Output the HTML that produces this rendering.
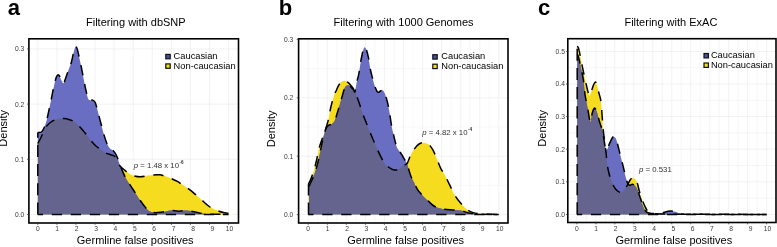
<!DOCTYPE html>
<html><head><meta charset="utf-8"><style>
html,body{margin:0;padding:0;background:#fff;}
svg{display:block;will-change:transform;}
text{font-family:"Liberation Sans",sans-serif;}
</style></head><body>
<svg width="777" height="247" viewBox="0 0 777 247">
<rect width="777" height="247" fill="#fff"/>

<defs><clipPath id="clipa"><rect x="28.9" y="38.8" width="209.6" height="184.2"/></clipPath>
<clipPath id="cca"><path d="M37.8 214.5 L37.8 132.6 C38.4 132.5 40.5 132.8 41.5 132.0 C42.5 131.2 43.2 129.8 44.0 128.0 C44.8 126.2 45.7 124.0 46.5 121.0 C47.3 118.0 48.2 113.8 49.0 110.0 C49.8 106.2 50.7 102.0 51.5 98.0 C52.3 94.0 53.2 89.3 54.0 86.0 C54.8 82.7 55.4 79.9 56.0 78.0 C56.6 76.1 57.2 75.1 57.8 74.8 C58.4 74.5 58.9 75.0 59.5 76.0 C60.1 77.0 60.8 79.3 61.5 80.5 C62.2 81.7 62.8 83.7 63.5 83.3 C64.2 82.9 64.9 80.2 65.7 78.0 C66.5 75.8 67.6 72.6 68.5 70.0 C69.4 67.4 70.5 65.3 71.3 62.5 C72.1 59.7 72.8 55.7 73.5 53.0 C74.2 50.3 74.9 47.0 75.6 46.5 C76.3 46.0 76.8 47.8 77.5 50.0 C78.2 52.2 78.9 56.0 79.8 60.0 C80.7 64.0 81.8 69.5 82.7 74.2 C83.7 78.9 84.6 84.2 85.5 88.3 C86.4 92.3 87.2 96.5 88.0 98.5 C88.8 100.5 89.7 100.0 90.5 100.3 C91.3 100.6 91.8 99.8 92.6 100.2 C93.4 100.6 94.3 100.5 95.2 102.5 C96.1 104.5 97.1 108.6 98.0 112.0 C98.9 115.4 99.8 119.4 100.8 123.0 C101.8 126.6 102.7 130.4 103.7 133.8 C104.7 137.2 105.9 141.1 106.9 143.5 C108.0 145.9 109.0 147.3 110.0 148.5 C111.0 149.7 112.0 149.5 113.0 150.5 C114.0 151.5 115.2 153.0 116.0 154.5 C116.8 156.0 117.4 157.7 118.1 159.4 C118.8 161.2 118.8 162.1 120.0 165.0 C121.2 167.9 123.5 173.7 125.2 177.1 C126.9 180.5 128.3 182.3 130.2 185.2 C132.0 188.1 134.3 191.3 136.3 194.4 C138.3 197.5 140.4 200.8 142.4 203.5 C144.4 206.2 146.5 209.0 148.5 210.5 C150.5 212.0 152.2 212.3 154.5 212.6 C156.8 212.8 159.9 212.3 162.6 212.0 C165.3 211.7 168.0 210.6 170.7 210.5 C173.4 210.4 176.1 211.2 178.8 211.2 C181.5 211.2 184.2 210.4 186.9 210.5 C189.6 210.6 192.3 211.5 195.0 212.0 C197.7 212.5 200.6 213.2 203.1 213.6 C205.6 214.0 205.7 214.1 210.0 214.2 C214.3 214.3 225.7 214.4 228.8 214.4 L228.8 214.5 Z"/></clipPath></defs>
<g stroke="#ececec" stroke-width="0.7"><line x1="37.8" y1="38.8" x2="37.8" y2="223.0"/><line x1="56.9" y1="38.8" x2="56.9" y2="223.0"/><line x1="76.0" y1="38.8" x2="76.0" y2="223.0"/><line x1="95.0" y1="38.8" x2="95.0" y2="223.0"/><line x1="114.1" y1="38.8" x2="114.1" y2="223.0"/><line x1="133.2" y1="38.8" x2="133.2" y2="223.0"/><line x1="152.3" y1="38.8" x2="152.3" y2="223.0"/><line x1="171.4" y1="38.8" x2="171.4" y2="223.0"/><line x1="190.4" y1="38.8" x2="190.4" y2="223.0"/><line x1="209.5" y1="38.8" x2="209.5" y2="223.0"/><line x1="228.6" y1="38.8" x2="228.6" y2="223.0"/><line x1="28.9" y1="214.5" x2="238.5" y2="214.5"/><line x1="28.9" y1="159.3" x2="238.5" y2="159.3"/><line x1="28.9" y1="104.1" x2="238.5" y2="104.1"/><line x1="28.9" y1="48.9" x2="238.5" y2="48.9"/></g>
<g clip-path="url(#clipa)">
<path d="M37.8 214.5 L37.8 143.5 C38.2 142.8 39.2 141.1 40.0 139.5 C40.8 137.9 41.8 135.6 42.6 133.8 C43.4 132.0 44.2 129.9 45.0 128.5 C45.8 127.1 46.2 126.5 47.4 125.3 C48.6 124.1 50.5 122.3 52.3 121.2 C54.1 120.1 56.0 119.2 58.0 118.8 C60.0 118.3 62.6 118.4 64.4 118.5 C66.2 118.6 67.4 119.0 69.0 119.5 C70.6 120.0 72.4 120.6 74.1 121.7 C75.8 122.8 77.4 124.4 79.0 126.0 C80.6 127.6 82.3 129.7 83.8 131.4 C85.3 133.2 86.6 134.7 88.0 136.5 C89.4 138.3 90.9 140.6 92.3 142.3 C93.7 144.0 95.1 145.3 96.5 146.5 C97.9 147.7 99.3 148.5 100.8 149.6 C102.3 150.7 104.2 152.2 105.7 153.0 C107.2 153.8 108.6 154.0 110.0 154.5 C111.4 155.0 113.1 155.2 114.2 156.0 C115.3 156.8 115.8 158.2 116.5 159.5 C117.2 160.8 117.7 162.4 118.3 163.5 C118.9 164.6 119.3 165.1 120.1 166.0 C120.9 166.9 122.0 167.9 123.0 168.8 C124.0 169.7 124.7 170.2 126.2 171.3 C127.8 172.4 129.9 174.4 132.3 175.3 C134.7 176.2 137.4 176.8 140.4 176.8 C143.4 176.8 147.3 175.6 150.5 175.3 C153.7 175.0 156.6 174.4 159.6 174.8 C162.6 175.2 165.8 176.4 168.7 177.5 C171.6 178.6 174.1 179.7 176.8 181.2 C179.5 182.7 182.2 184.5 184.9 186.3 C187.6 188.2 190.3 190.1 193.0 192.3 C195.7 194.5 198.4 197.0 201.1 199.4 C203.8 201.8 206.5 204.7 209.2 206.5 C211.9 208.3 214.8 209.4 217.3 210.5 C219.8 211.6 222.5 212.3 224.4 212.8 C226.3 213.3 228.1 213.2 228.8 213.3 L228.8 214.5 Z" fill="#f5dc1e"/>
<path d="M37.8 214.5 L37.8 132.6 C38.4 132.5 40.5 132.8 41.5 132.0 C42.5 131.2 43.2 129.8 44.0 128.0 C44.8 126.2 45.7 124.0 46.5 121.0 C47.3 118.0 48.2 113.8 49.0 110.0 C49.8 106.2 50.7 102.0 51.5 98.0 C52.3 94.0 53.2 89.3 54.0 86.0 C54.8 82.7 55.4 79.9 56.0 78.0 C56.6 76.1 57.2 75.1 57.8 74.8 C58.4 74.5 58.9 75.0 59.5 76.0 C60.1 77.0 60.8 79.3 61.5 80.5 C62.2 81.7 62.8 83.7 63.5 83.3 C64.2 82.9 64.9 80.2 65.7 78.0 C66.5 75.8 67.6 72.6 68.5 70.0 C69.4 67.4 70.5 65.3 71.3 62.5 C72.1 59.7 72.8 55.7 73.5 53.0 C74.2 50.3 74.9 47.0 75.6 46.5 C76.3 46.0 76.8 47.8 77.5 50.0 C78.2 52.2 78.9 56.0 79.8 60.0 C80.7 64.0 81.8 69.5 82.7 74.2 C83.7 78.9 84.6 84.2 85.5 88.3 C86.4 92.3 87.2 96.5 88.0 98.5 C88.8 100.5 89.7 100.0 90.5 100.3 C91.3 100.6 91.8 99.8 92.6 100.2 C93.4 100.6 94.3 100.5 95.2 102.5 C96.1 104.5 97.1 108.6 98.0 112.0 C98.9 115.4 99.8 119.4 100.8 123.0 C101.8 126.6 102.7 130.4 103.7 133.8 C104.7 137.2 105.9 141.1 106.9 143.5 C108.0 145.9 109.0 147.3 110.0 148.5 C111.0 149.7 112.0 149.5 113.0 150.5 C114.0 151.5 115.2 153.0 116.0 154.5 C116.8 156.0 117.4 157.7 118.1 159.4 C118.8 161.2 118.8 162.1 120.0 165.0 C121.2 167.9 123.5 173.7 125.2 177.1 C126.9 180.5 128.3 182.3 130.2 185.2 C132.0 188.1 134.3 191.3 136.3 194.4 C138.3 197.5 140.4 200.8 142.4 203.5 C144.4 206.2 146.5 209.0 148.5 210.5 C150.5 212.0 152.2 212.3 154.5 212.6 C156.8 212.8 159.9 212.3 162.6 212.0 C165.3 211.7 168.0 210.6 170.7 210.5 C173.4 210.4 176.1 211.2 178.8 211.2 C181.5 211.2 184.2 210.4 186.9 210.5 C189.6 210.6 192.3 211.5 195.0 212.0 C197.7 212.5 200.6 213.2 203.1 213.6 C205.6 214.0 205.7 214.1 210.0 214.2 C214.3 214.3 225.7 214.4 228.8 214.4 L228.8 214.5 Z" fill="#6a6ec3"/>
<path d="M37.8 214.5 L37.8 143.5 C38.2 142.8 39.2 141.1 40.0 139.5 C40.8 137.9 41.8 135.6 42.6 133.8 C43.4 132.0 44.2 129.9 45.0 128.5 C45.8 127.1 46.2 126.5 47.4 125.3 C48.6 124.1 50.5 122.3 52.3 121.2 C54.1 120.1 56.0 119.2 58.0 118.8 C60.0 118.3 62.6 118.4 64.4 118.5 C66.2 118.6 67.4 119.0 69.0 119.5 C70.6 120.0 72.4 120.6 74.1 121.7 C75.8 122.8 77.4 124.4 79.0 126.0 C80.6 127.6 82.3 129.7 83.8 131.4 C85.3 133.2 86.6 134.7 88.0 136.5 C89.4 138.3 90.9 140.6 92.3 142.3 C93.7 144.0 95.1 145.3 96.5 146.5 C97.9 147.7 99.3 148.5 100.8 149.6 C102.3 150.7 104.2 152.2 105.7 153.0 C107.2 153.8 108.6 154.0 110.0 154.5 C111.4 155.0 113.1 155.2 114.2 156.0 C115.3 156.8 115.8 158.2 116.5 159.5 C117.2 160.8 117.7 162.4 118.3 163.5 C118.9 164.6 119.3 165.1 120.1 166.0 C120.9 166.9 122.0 167.9 123.0 168.8 C124.0 169.7 124.7 170.2 126.2 171.3 C127.8 172.4 129.9 174.4 132.3 175.3 C134.7 176.2 137.4 176.8 140.4 176.8 C143.4 176.8 147.3 175.6 150.5 175.3 C153.7 175.0 156.6 174.4 159.6 174.8 C162.6 175.2 165.8 176.4 168.7 177.5 C171.6 178.6 174.1 179.7 176.8 181.2 C179.5 182.7 182.2 184.5 184.9 186.3 C187.6 188.2 190.3 190.1 193.0 192.3 C195.7 194.5 198.4 197.0 201.1 199.4 C203.8 201.8 206.5 204.7 209.2 206.5 C211.9 208.3 214.8 209.4 217.3 210.5 C219.8 211.6 222.5 212.3 224.4 212.8 C226.3 213.3 228.1 213.2 228.8 213.3 L228.8 214.5 Z" fill="#64648f" clip-path="url(#cca)"/>
<path d="M37.8 132.6 C38.4 132.5 40.5 132.8 41.5 132.0 C42.5 131.2 43.2 129.8 44.0 128.0 C44.8 126.2 45.7 124.0 46.5 121.0 C47.3 118.0 48.2 113.8 49.0 110.0 C49.8 106.2 50.7 102.0 51.5 98.0 C52.3 94.0 53.2 89.3 54.0 86.0 C54.8 82.7 55.4 79.9 56.0 78.0 C56.6 76.1 57.2 75.1 57.8 74.8 C58.4 74.5 58.9 75.0 59.5 76.0 C60.1 77.0 60.8 79.3 61.5 80.5 C62.2 81.7 62.8 83.7 63.5 83.3 C64.2 82.9 64.9 80.2 65.7 78.0 C66.5 75.8 67.6 72.6 68.5 70.0 C69.4 67.4 70.5 65.3 71.3 62.5 C72.1 59.7 72.8 55.7 73.5 53.0 C74.2 50.3 74.9 47.0 75.6 46.5 C76.3 46.0 76.8 47.8 77.5 50.0 C78.2 52.2 78.9 56.0 79.8 60.0 C80.7 64.0 81.8 69.5 82.7 74.2 C83.7 78.9 84.6 84.2 85.5 88.3 C86.4 92.3 87.2 96.5 88.0 98.5 C88.8 100.5 89.7 100.0 90.5 100.3 C91.3 100.6 91.8 99.8 92.6 100.2 C93.4 100.6 94.3 100.5 95.2 102.5 C96.1 104.5 97.1 108.6 98.0 112.0 C98.9 115.4 99.8 119.4 100.8 123.0 C101.8 126.6 102.7 130.4 103.7 133.8 C104.7 137.2 105.9 141.1 106.9 143.5 C108.0 145.9 109.0 147.3 110.0 148.5 C111.0 149.7 112.0 149.5 113.0 150.5 C114.0 151.5 115.2 153.0 116.0 154.5 C116.8 156.0 117.4 157.7 118.1 159.4 C118.8 161.2 118.8 162.1 120.0 165.0 C121.2 167.9 123.5 173.7 125.2 177.1 C126.9 180.5 128.3 182.3 130.2 185.2 C132.0 188.1 134.3 191.3 136.3 194.4 C138.3 197.5 140.4 200.8 142.4 203.5 C144.4 206.2 146.5 209.0 148.5 210.5 C150.5 212.0 152.2 212.3 154.5 212.6 C156.8 212.8 159.9 212.3 162.6 212.0 C165.3 211.7 168.0 210.6 170.7 210.5 C173.4 210.4 176.1 211.2 178.8 211.2 C181.5 211.2 184.2 210.4 186.9 210.5 C189.6 210.6 192.3 211.5 195.0 212.0 C197.7 212.5 200.6 213.2 203.1 213.6 C205.6 214.0 205.7 214.1 210.0 214.2 C214.3 214.3 225.7 214.4 228.8 214.4" fill="none" stroke="#000" stroke-width="1.50" stroke-dasharray="10.3 8.7"/>
<path d="M37.8 143.5 C38.2 142.8 39.2 141.1 40.0 139.5 C40.8 137.9 41.8 135.6 42.6 133.8 C43.4 132.0 44.2 129.9 45.0 128.5 C45.8 127.1 46.2 126.5 47.4 125.3 C48.6 124.1 50.5 122.3 52.3 121.2 C54.1 120.1 56.0 119.2 58.0 118.8 C60.0 118.3 62.6 118.4 64.4 118.5 C66.2 118.6 67.4 119.0 69.0 119.5 C70.6 120.0 72.4 120.6 74.1 121.7 C75.8 122.8 77.4 124.4 79.0 126.0 C80.6 127.6 82.3 129.7 83.8 131.4 C85.3 133.2 86.6 134.7 88.0 136.5 C89.4 138.3 90.9 140.6 92.3 142.3 C93.7 144.0 95.1 145.3 96.5 146.5 C97.9 147.7 99.3 148.5 100.8 149.6 C102.3 150.7 104.2 152.2 105.7 153.0 C107.2 153.8 108.6 154.0 110.0 154.5 C111.4 155.0 113.1 155.2 114.2 156.0 C115.3 156.8 115.8 158.2 116.5 159.5 C117.2 160.8 117.7 162.4 118.3 163.5 C118.9 164.6 119.3 165.1 120.1 166.0 C120.9 166.9 122.0 167.9 123.0 168.8 C124.0 169.7 124.7 170.2 126.2 171.3 C127.8 172.4 129.9 174.4 132.3 175.3 C134.7 176.2 137.4 176.8 140.4 176.8 C143.4 176.8 147.3 175.6 150.5 175.3 C153.7 175.0 156.6 174.4 159.6 174.8 C162.6 175.2 165.8 176.4 168.7 177.5 C171.6 178.6 174.1 179.7 176.8 181.2 C179.5 182.7 182.2 184.5 184.9 186.3 C187.6 188.2 190.3 190.1 193.0 192.3 C195.7 194.5 198.4 197.0 201.1 199.4 C203.8 201.8 206.5 204.7 209.2 206.5 C211.9 208.3 214.8 209.4 217.3 210.5 C219.8 211.6 222.5 212.3 224.4 212.8 C226.3 213.3 228.1 213.2 228.8 213.3" fill="none" stroke="#000" stroke-width="1.50" stroke-dasharray="10.3 8.7"/>
<line x1="37.8" y1="214.5" x2="228.6" y2="214.5" stroke="#000" stroke-width="1.50" stroke-dasharray="10.3 8.7" stroke-dashoffset="5.0"/>
<line x1="37.8" y1="214.5" x2="37.8" y2="132.6" stroke="#000" stroke-width="1.50" stroke-dasharray="12.1 7.1"/>
</g>
<rect x="28.9" y="38.8" width="209.6" height="184.2" fill="none" stroke="#000" stroke-width="1.6"/>
<g stroke="#333" stroke-width="0.8"><line x1="37.8" y1="223.0" x2="37.8" y2="224.8"/><line x1="56.9" y1="223.0" x2="56.9" y2="224.8"/><line x1="76.0" y1="223.0" x2="76.0" y2="224.8"/><line x1="95.0" y1="223.0" x2="95.0" y2="224.8"/><line x1="114.1" y1="223.0" x2="114.1" y2="224.8"/><line x1="133.2" y1="223.0" x2="133.2" y2="224.8"/><line x1="152.3" y1="223.0" x2="152.3" y2="224.8"/><line x1="171.4" y1="223.0" x2="171.4" y2="224.8"/><line x1="190.4" y1="223.0" x2="190.4" y2="224.8"/><line x1="209.5" y1="223.0" x2="209.5" y2="224.8"/><line x1="228.6" y1="223.0" x2="228.6" y2="224.8"/><line x1="27.1" y1="214.5" x2="28.9" y2="214.5"/><line x1="27.1" y1="159.3" x2="28.9" y2="159.3"/><line x1="27.1" y1="104.1" x2="28.9" y2="104.1"/><line x1="27.1" y1="48.9" x2="28.9" y2="48.9"/></g>
<g fill="#3a3a3a" font-size="6.7"><text x="37.8" y="230.6" text-anchor="middle">0</text><text x="57.2" y="230.6" text-anchor="middle">1</text><text x="76.6" y="230.6" text-anchor="middle">2</text><text x="96.0" y="230.6" text-anchor="middle">3</text><text x="115.4" y="230.6" text-anchor="middle">4</text><text x="134.8" y="230.6" text-anchor="middle">5</text><text x="154.2" y="230.6" text-anchor="middle">6</text><text x="173.6" y="230.6" text-anchor="middle">7</text><text x="193.0" y="230.6" text-anchor="middle">8</text><text x="212.4" y="230.6" text-anchor="middle">9</text><text x="229.6" y="230.6" text-anchor="middle">10</text><text x="24.3" y="216.9" text-anchor="end">0.0</text><text x="24.3" y="161.7" text-anchor="end">0.1</text><text x="24.3" y="106.5" text-anchor="end">0.2</text><text x="24.3" y="51.3" text-anchor="end">0.3</text></g>
<text x="7.8" y="14.8" font-size="22" font-weight="bold" fill="#000">a</text>
<text x="135.8" y="25.5" font-size="11" text-anchor="middle" fill="#000">Filtering with dbSNP</text>
<text x="135.2" y="244.2" font-size="11" text-anchor="middle" fill="#000">Germline false positives</text>
<text transform="translate(7.3 128.3) rotate(-90)" font-size="11" text-anchor="middle" fill="#000">Density</text>
<rect x="165.8" y="54.4" width="4.4" height="4.4" fill="#4a50a0" stroke="#111" stroke-width="1.2"/>
<rect x="165.8" y="63.9" width="4.4" height="4.4" fill="#f0e010" stroke="#111" stroke-width="1.2"/>
<text x="173.6" y="59.0" font-size="9.3" fill="#000">Caucasian</text>
<text x="173.6" y="68.8" font-size="9.3" fill="#000">Non-caucasian</text>
<text x="133.7" y="167.6" font-size="7.8" fill="#333"><tspan font-style="italic">p</tspan> = 1.48 x 10<tspan font-size="4.6" font-weight="bold" dx="0.4" dy="-3.2">-6</tspan></text>
<defs><clipPath id="clipb"><rect x="298.6" y="38.8" width="209.4" height="184.2"/></clipPath>
<clipPath id="ccb"><path d="M309.0 214.6 L309.0 186.5 C309.4 185.6 310.5 183.3 311.5 181.0 C312.5 178.7 313.9 175.7 315.0 172.5 C316.1 169.3 317.1 165.7 318.0 162.0 C318.9 158.3 319.8 154.0 320.5 150.5 C321.2 147.0 321.8 143.9 322.5 141.0 C323.2 138.1 323.9 135.1 324.5 133.0 C325.1 130.9 325.4 129.5 326.1 128.2 C326.8 126.9 327.6 126.1 328.5 125.4 C329.4 124.7 330.4 125.0 331.5 124.2 C332.6 123.4 333.9 122.2 334.8 120.4 C335.8 118.6 336.4 115.8 337.2 113.3 C338.0 110.8 338.8 108.0 339.6 105.2 C340.4 102.4 341.4 99.0 342.1 96.5 C342.8 94.0 343.3 92.1 343.8 90.5 C344.3 88.9 344.7 87.7 345.3 86.8 C345.9 85.9 346.9 85.5 347.6 85.3 C348.3 85.1 348.8 85.2 349.4 85.6 C350.0 85.9 350.6 86.7 351.3 87.4 C352.0 88.1 353.1 89.3 353.7 90.0 C354.3 90.7 354.5 93.1 355.0 91.8 C355.5 90.5 356.1 85.0 356.7 82.2 C357.3 79.4 358.0 77.8 358.6 74.9 C359.2 72.0 359.7 68.2 360.2 65.0 C360.7 61.9 361.3 58.5 361.8 56.0 C362.3 53.5 362.7 51.5 363.2 50.0 C363.7 48.5 364.1 47.2 364.7 47.2 C365.2 47.2 365.9 48.3 366.5 50.0 C367.1 51.7 367.7 54.1 368.4 57.4 C369.1 60.7 369.9 66.8 370.5 70.0 C371.1 73.2 371.6 74.3 372.1 76.5 C372.7 78.7 373.2 81.1 373.8 83.0 C374.4 84.9 374.8 86.3 375.4 87.8 C376.0 89.3 376.7 91.1 377.3 91.8 C377.9 92.5 378.3 92.3 378.8 92.2 C379.3 92.1 379.8 91.3 380.4 91.0 C381.0 90.7 381.8 90.0 382.5 90.2 C383.2 90.5 383.8 91.4 384.4 92.5 C385.0 93.6 385.4 95.0 385.9 96.7 C386.4 98.4 387.0 100.2 387.5 102.4 C388.0 104.6 388.6 107.5 389.1 110.0 C389.6 112.5 389.9 114.8 390.3 117.5 C390.7 120.2 391.1 123.2 391.6 126.0 C392.1 128.8 392.9 131.7 393.4 134.0 C393.9 136.3 394.2 137.7 394.8 140.0 C395.4 142.3 396.1 145.8 397.2 148.1 C398.3 150.4 400.1 151.9 401.3 153.8 C402.5 155.7 403.6 157.8 404.5 159.4 C405.4 161.0 406.3 161.9 407.0 163.5 C407.7 165.1 407.9 166.9 408.6 169.1 C409.3 171.3 410.2 174.5 411.0 176.5 C411.8 178.5 412.3 179.1 413.4 181.2 C414.5 183.3 415.9 186.9 417.4 189.3 C418.9 191.7 420.6 193.4 422.5 195.4 C424.4 197.4 426.6 199.6 428.6 201.4 C430.6 203.2 432.3 205.2 434.7 206.5 C437.1 207.8 439.8 208.5 442.8 209.1 C445.8 209.7 449.9 209.7 452.9 209.9 C455.9 210.1 458.6 210.1 461.0 210.5 C463.4 210.9 465.0 212.1 467.0 212.6 C469.0 213.1 470.9 213.3 473.1 213.6 C475.3 213.9 475.7 214.2 480.0 214.3 C484.3 214.5 495.7 214.5 498.8 214.5 L498.8 214.6 Z"/></clipPath></defs>
<g stroke="#ececec" stroke-width="0.7"><line x1="308.2" y1="38.8" x2="308.2" y2="223.0"/><line x1="317.7" y1="38.8" x2="317.7" y2="223.0" stroke="#f6f6f6"/><line x1="327.3" y1="38.8" x2="327.3" y2="223.0"/><line x1="336.8" y1="38.8" x2="336.8" y2="223.0" stroke="#f6f6f6"/><line x1="346.3" y1="38.8" x2="346.3" y2="223.0"/><line x1="355.8" y1="38.8" x2="355.8" y2="223.0" stroke="#f6f6f6"/><line x1="365.4" y1="38.8" x2="365.4" y2="223.0"/><line x1="374.9" y1="38.8" x2="374.9" y2="223.0" stroke="#f6f6f6"/><line x1="384.4" y1="38.8" x2="384.4" y2="223.0"/><line x1="394.0" y1="38.8" x2="394.0" y2="223.0" stroke="#f6f6f6"/><line x1="403.5" y1="38.8" x2="403.5" y2="223.0"/><line x1="413.0" y1="38.8" x2="413.0" y2="223.0" stroke="#f6f6f6"/><line x1="422.6" y1="38.8" x2="422.6" y2="223.0"/><line x1="432.1" y1="38.8" x2="432.1" y2="223.0" stroke="#f6f6f6"/><line x1="441.6" y1="38.8" x2="441.6" y2="223.0"/><line x1="451.1" y1="38.8" x2="451.1" y2="223.0" stroke="#f6f6f6"/><line x1="460.7" y1="38.8" x2="460.7" y2="223.0"/><line x1="470.2" y1="38.8" x2="470.2" y2="223.0" stroke="#f6f6f6"/><line x1="479.7" y1="38.8" x2="479.7" y2="223.0"/><line x1="489.3" y1="38.8" x2="489.3" y2="223.0" stroke="#f6f6f6"/><line x1="498.8" y1="38.8" x2="498.8" y2="223.0"/><line x1="298.6" y1="214.6" x2="508.0" y2="214.6"/><line x1="298.6" y1="185.4" x2="508.0" y2="185.4" stroke="#f6f6f6"/><line x1="298.6" y1="156.2" x2="508.0" y2="156.2"/><line x1="298.6" y1="127.0" x2="508.0" y2="127.0" stroke="#f6f6f6"/><line x1="298.6" y1="97.8" x2="508.0" y2="97.8"/><line x1="298.6" y1="68.6" x2="508.0" y2="68.6" stroke="#f6f6f6"/><line x1="298.6" y1="39.4" x2="508.0" y2="39.4"/></g>
<g clip-path="url(#clipb)">
<path d="M308.5 214.6 L308.5 184.0 C308.9 183.2 309.8 181.6 310.6 179.5 C311.5 177.4 312.6 174.7 313.6 171.5 C314.6 168.3 315.6 164.2 316.5 160.5 C317.4 156.8 318.1 152.2 318.9 149.0 C319.7 145.8 320.5 143.5 321.4 141.0 C322.3 138.5 323.3 136.2 324.1 134.0 C324.9 131.8 325.4 129.8 326.1 127.5 C326.8 125.2 327.6 123.1 328.2 120.4 C328.8 117.7 329.3 114.2 329.9 111.3 C330.5 108.4 331.2 105.4 331.8 103.2 C332.4 101.0 332.8 99.6 333.3 97.9 C333.8 96.2 334.5 94.4 335.0 93.1 C335.5 91.8 335.8 91.5 336.4 90.3 C337.0 89.0 337.6 87.0 338.5 85.6 C339.4 84.2 340.5 82.6 341.5 81.8 C342.5 81.0 343.6 80.6 344.6 80.7 C345.6 80.8 346.6 81.5 347.6 82.2 C348.6 83.0 349.8 84.2 350.7 85.2 C351.6 86.2 352.4 87.2 353.1 88.2 C353.8 89.2 354.4 90.2 354.9 91.3 C355.4 92.4 355.6 93.0 356.3 95.0 C357.0 97.0 358.0 99.7 359.2 103.1 C360.4 106.5 361.9 111.5 363.3 115.2 C364.7 118.9 366.0 122.0 367.3 125.4 C368.6 128.8 370.0 132.2 371.4 135.5 C372.8 138.8 373.9 141.7 375.4 145.0 C376.9 148.3 378.7 152.5 380.2 155.4 C381.7 158.3 382.8 160.7 384.3 162.7 C385.8 164.7 387.5 166.3 389.1 167.5 C390.7 168.7 392.4 169.7 394.0 170.0 C395.6 170.3 397.4 169.8 398.9 169.1 C400.4 168.4 401.5 166.8 402.9 165.9 C404.2 165.0 405.8 165.1 407.0 163.5 C408.2 161.9 408.9 158.8 410.2 156.2 C411.5 153.6 413.5 150.1 415.0 148.1 C416.5 146.1 417.7 144.9 419.1 144.0 C420.5 143.1 421.9 142.6 423.5 142.7 C425.1 142.8 427.1 143.2 428.6 144.3 C430.1 145.4 431.2 147.0 432.6 149.4 C434.0 151.8 435.4 155.3 436.7 158.5 C438.0 161.7 439.3 165.5 440.7 168.3 C442.1 171.1 443.3 172.3 444.8 175.1 C446.3 177.9 448.1 181.8 449.8 185.2 C451.5 188.6 453.0 192.3 454.9 195.4 C456.8 198.5 459.0 201.2 461.0 203.5 C463.0 205.8 465.0 208.0 467.0 209.5 C469.0 211.0 471.1 211.9 473.1 212.6 C475.1 213.3 476.4 213.3 479.2 213.6 C482.0 213.9 486.7 214.1 490.0 214.2 C493.3 214.3 497.3 214.4 498.8 214.4 L498.8 214.6 Z" fill="#f5dc1e"/>
<path d="M309.0 214.6 L309.0 186.5 C309.4 185.6 310.5 183.3 311.5 181.0 C312.5 178.7 313.9 175.7 315.0 172.5 C316.1 169.3 317.1 165.7 318.0 162.0 C318.9 158.3 319.8 154.0 320.5 150.5 C321.2 147.0 321.8 143.9 322.5 141.0 C323.2 138.1 323.9 135.1 324.5 133.0 C325.1 130.9 325.4 129.5 326.1 128.2 C326.8 126.9 327.6 126.1 328.5 125.4 C329.4 124.7 330.4 125.0 331.5 124.2 C332.6 123.4 333.9 122.2 334.8 120.4 C335.8 118.6 336.4 115.8 337.2 113.3 C338.0 110.8 338.8 108.0 339.6 105.2 C340.4 102.4 341.4 99.0 342.1 96.5 C342.8 94.0 343.3 92.1 343.8 90.5 C344.3 88.9 344.7 87.7 345.3 86.8 C345.9 85.9 346.9 85.5 347.6 85.3 C348.3 85.1 348.8 85.2 349.4 85.6 C350.0 85.9 350.6 86.7 351.3 87.4 C352.0 88.1 353.1 89.3 353.7 90.0 C354.3 90.7 354.5 93.1 355.0 91.8 C355.5 90.5 356.1 85.0 356.7 82.2 C357.3 79.4 358.0 77.8 358.6 74.9 C359.2 72.0 359.7 68.2 360.2 65.0 C360.7 61.9 361.3 58.5 361.8 56.0 C362.3 53.5 362.7 51.5 363.2 50.0 C363.7 48.5 364.1 47.2 364.7 47.2 C365.2 47.2 365.9 48.3 366.5 50.0 C367.1 51.7 367.7 54.1 368.4 57.4 C369.1 60.7 369.9 66.8 370.5 70.0 C371.1 73.2 371.6 74.3 372.1 76.5 C372.7 78.7 373.2 81.1 373.8 83.0 C374.4 84.9 374.8 86.3 375.4 87.8 C376.0 89.3 376.7 91.1 377.3 91.8 C377.9 92.5 378.3 92.3 378.8 92.2 C379.3 92.1 379.8 91.3 380.4 91.0 C381.0 90.7 381.8 90.0 382.5 90.2 C383.2 90.5 383.8 91.4 384.4 92.5 C385.0 93.6 385.4 95.0 385.9 96.7 C386.4 98.4 387.0 100.2 387.5 102.4 C388.0 104.6 388.6 107.5 389.1 110.0 C389.6 112.5 389.9 114.8 390.3 117.5 C390.7 120.2 391.1 123.2 391.6 126.0 C392.1 128.8 392.9 131.7 393.4 134.0 C393.9 136.3 394.2 137.7 394.8 140.0 C395.4 142.3 396.1 145.8 397.2 148.1 C398.3 150.4 400.1 151.9 401.3 153.8 C402.5 155.7 403.6 157.8 404.5 159.4 C405.4 161.0 406.3 161.9 407.0 163.5 C407.7 165.1 407.9 166.9 408.6 169.1 C409.3 171.3 410.2 174.5 411.0 176.5 C411.8 178.5 412.3 179.1 413.4 181.2 C414.5 183.3 415.9 186.9 417.4 189.3 C418.9 191.7 420.6 193.4 422.5 195.4 C424.4 197.4 426.6 199.6 428.6 201.4 C430.6 203.2 432.3 205.2 434.7 206.5 C437.1 207.8 439.8 208.5 442.8 209.1 C445.8 209.7 449.9 209.7 452.9 209.9 C455.9 210.1 458.6 210.1 461.0 210.5 C463.4 210.9 465.0 212.1 467.0 212.6 C469.0 213.1 470.9 213.3 473.1 213.6 C475.3 213.9 475.7 214.2 480.0 214.3 C484.3 214.5 495.7 214.5 498.8 214.5 L498.8 214.6 Z" fill="#6a6ec3"/>
<path d="M308.5 214.6 L308.5 184.0 C308.9 183.2 309.8 181.6 310.6 179.5 C311.5 177.4 312.6 174.7 313.6 171.5 C314.6 168.3 315.6 164.2 316.5 160.5 C317.4 156.8 318.1 152.2 318.9 149.0 C319.7 145.8 320.5 143.5 321.4 141.0 C322.3 138.5 323.3 136.2 324.1 134.0 C324.9 131.8 325.4 129.8 326.1 127.5 C326.8 125.2 327.6 123.1 328.2 120.4 C328.8 117.7 329.3 114.2 329.9 111.3 C330.5 108.4 331.2 105.4 331.8 103.2 C332.4 101.0 332.8 99.6 333.3 97.9 C333.8 96.2 334.5 94.4 335.0 93.1 C335.5 91.8 335.8 91.5 336.4 90.3 C337.0 89.0 337.6 87.0 338.5 85.6 C339.4 84.2 340.5 82.6 341.5 81.8 C342.5 81.0 343.6 80.6 344.6 80.7 C345.6 80.8 346.6 81.5 347.6 82.2 C348.6 83.0 349.8 84.2 350.7 85.2 C351.6 86.2 352.4 87.2 353.1 88.2 C353.8 89.2 354.4 90.2 354.9 91.3 C355.4 92.4 355.6 93.0 356.3 95.0 C357.0 97.0 358.0 99.7 359.2 103.1 C360.4 106.5 361.9 111.5 363.3 115.2 C364.7 118.9 366.0 122.0 367.3 125.4 C368.6 128.8 370.0 132.2 371.4 135.5 C372.8 138.8 373.9 141.7 375.4 145.0 C376.9 148.3 378.7 152.5 380.2 155.4 C381.7 158.3 382.8 160.7 384.3 162.7 C385.8 164.7 387.5 166.3 389.1 167.5 C390.7 168.7 392.4 169.7 394.0 170.0 C395.6 170.3 397.4 169.8 398.9 169.1 C400.4 168.4 401.5 166.8 402.9 165.9 C404.2 165.0 405.8 165.1 407.0 163.5 C408.2 161.9 408.9 158.8 410.2 156.2 C411.5 153.6 413.5 150.1 415.0 148.1 C416.5 146.1 417.7 144.9 419.1 144.0 C420.5 143.1 421.9 142.6 423.5 142.7 C425.1 142.8 427.1 143.2 428.6 144.3 C430.1 145.4 431.2 147.0 432.6 149.4 C434.0 151.8 435.4 155.3 436.7 158.5 C438.0 161.7 439.3 165.5 440.7 168.3 C442.1 171.1 443.3 172.3 444.8 175.1 C446.3 177.9 448.1 181.8 449.8 185.2 C451.5 188.6 453.0 192.3 454.9 195.4 C456.8 198.5 459.0 201.2 461.0 203.5 C463.0 205.8 465.0 208.0 467.0 209.5 C469.0 211.0 471.1 211.9 473.1 212.6 C475.1 213.3 476.4 213.3 479.2 213.6 C482.0 213.9 486.7 214.1 490.0 214.2 C493.3 214.3 497.3 214.4 498.8 214.4 L498.8 214.6 Z" fill="#64648f" clip-path="url(#ccb)"/>
<path d="M309.0 186.5 C309.4 185.6 310.5 183.3 311.5 181.0 C312.5 178.7 313.9 175.7 315.0 172.5 C316.1 169.3 317.1 165.7 318.0 162.0 C318.9 158.3 319.8 154.0 320.5 150.5 C321.2 147.0 321.8 143.9 322.5 141.0 C323.2 138.1 323.9 135.1 324.5 133.0 C325.1 130.9 325.4 129.5 326.1 128.2 C326.8 126.9 327.6 126.1 328.5 125.4 C329.4 124.7 330.4 125.0 331.5 124.2 C332.6 123.4 333.9 122.2 334.8 120.4 C335.8 118.6 336.4 115.8 337.2 113.3 C338.0 110.8 338.8 108.0 339.6 105.2 C340.4 102.4 341.4 99.0 342.1 96.5 C342.8 94.0 343.3 92.1 343.8 90.5 C344.3 88.9 344.7 87.7 345.3 86.8 C345.9 85.9 346.9 85.5 347.6 85.3 C348.3 85.1 348.8 85.2 349.4 85.6 C350.0 85.9 350.6 86.7 351.3 87.4 C352.0 88.1 353.1 89.3 353.7 90.0 C354.3 90.7 354.5 93.1 355.0 91.8 C355.5 90.5 356.1 85.0 356.7 82.2 C357.3 79.4 358.0 77.8 358.6 74.9 C359.2 72.0 359.7 68.2 360.2 65.0 C360.7 61.9 361.3 58.5 361.8 56.0 C362.3 53.5 362.7 51.5 363.2 50.0 C363.7 48.5 364.1 47.2 364.7 47.2 C365.2 47.2 365.9 48.3 366.5 50.0 C367.1 51.7 367.7 54.1 368.4 57.4 C369.1 60.7 369.9 66.8 370.5 70.0 C371.1 73.2 371.6 74.3 372.1 76.5 C372.7 78.7 373.2 81.1 373.8 83.0 C374.4 84.9 374.8 86.3 375.4 87.8 C376.0 89.3 376.7 91.1 377.3 91.8 C377.9 92.5 378.3 92.3 378.8 92.2 C379.3 92.1 379.8 91.3 380.4 91.0 C381.0 90.7 381.8 90.0 382.5 90.2 C383.2 90.5 383.8 91.4 384.4 92.5 C385.0 93.6 385.4 95.0 385.9 96.7 C386.4 98.4 387.0 100.2 387.5 102.4 C388.0 104.6 388.6 107.5 389.1 110.0 C389.6 112.5 389.9 114.8 390.3 117.5 C390.7 120.2 391.1 123.2 391.6 126.0 C392.1 128.8 392.9 131.7 393.4 134.0 C393.9 136.3 394.2 137.7 394.8 140.0 C395.4 142.3 396.1 145.8 397.2 148.1 C398.3 150.4 400.1 151.9 401.3 153.8 C402.5 155.7 403.6 157.8 404.5 159.4 C405.4 161.0 406.3 161.9 407.0 163.5 C407.7 165.1 407.9 166.9 408.6 169.1 C409.3 171.3 410.2 174.5 411.0 176.5 C411.8 178.5 412.3 179.1 413.4 181.2 C414.5 183.3 415.9 186.9 417.4 189.3 C418.9 191.7 420.6 193.4 422.5 195.4 C424.4 197.4 426.6 199.6 428.6 201.4 C430.6 203.2 432.3 205.2 434.7 206.5 C437.1 207.8 439.8 208.5 442.8 209.1 C445.8 209.7 449.9 209.7 452.9 209.9 C455.9 210.1 458.6 210.1 461.0 210.5 C463.4 210.9 465.0 212.1 467.0 212.6 C469.0 213.1 470.9 213.3 473.1 213.6 C475.3 213.9 475.7 214.2 480.0 214.3 C484.3 214.5 495.7 214.5 498.8 214.5" fill="none" stroke="#000" stroke-width="1.50" stroke-dasharray="10.3 8.7"/>
<path d="M308.5 184.0 C308.9 183.2 309.8 181.6 310.6 179.5 C311.5 177.4 312.6 174.7 313.6 171.5 C314.6 168.3 315.6 164.2 316.5 160.5 C317.4 156.8 318.1 152.2 318.9 149.0 C319.7 145.8 320.5 143.5 321.4 141.0 C322.3 138.5 323.3 136.2 324.1 134.0 C324.9 131.8 325.4 129.8 326.1 127.5 C326.8 125.2 327.6 123.1 328.2 120.4 C328.8 117.7 329.3 114.2 329.9 111.3 C330.5 108.4 331.2 105.4 331.8 103.2 C332.4 101.0 332.8 99.6 333.3 97.9 C333.8 96.2 334.5 94.4 335.0 93.1 C335.5 91.8 335.8 91.5 336.4 90.3 C337.0 89.0 337.6 87.0 338.5 85.6 C339.4 84.2 340.5 82.6 341.5 81.8 C342.5 81.0 343.6 80.6 344.6 80.7 C345.6 80.8 346.6 81.5 347.6 82.2 C348.6 83.0 349.8 84.2 350.7 85.2 C351.6 86.2 352.4 87.2 353.1 88.2 C353.8 89.2 354.4 90.2 354.9 91.3 C355.4 92.4 355.6 93.0 356.3 95.0 C357.0 97.0 358.0 99.7 359.2 103.1 C360.4 106.5 361.9 111.5 363.3 115.2 C364.7 118.9 366.0 122.0 367.3 125.4 C368.6 128.8 370.0 132.2 371.4 135.5 C372.8 138.8 373.9 141.7 375.4 145.0 C376.9 148.3 378.7 152.5 380.2 155.4 C381.7 158.3 382.8 160.7 384.3 162.7 C385.8 164.7 387.5 166.3 389.1 167.5 C390.7 168.7 392.4 169.7 394.0 170.0 C395.6 170.3 397.4 169.8 398.9 169.1 C400.4 168.4 401.5 166.8 402.9 165.9 C404.2 165.0 405.8 165.1 407.0 163.5 C408.2 161.9 408.9 158.8 410.2 156.2 C411.5 153.6 413.5 150.1 415.0 148.1 C416.5 146.1 417.7 144.9 419.1 144.0 C420.5 143.1 421.9 142.6 423.5 142.7 C425.1 142.8 427.1 143.2 428.6 144.3 C430.1 145.4 431.2 147.0 432.6 149.4 C434.0 151.8 435.4 155.3 436.7 158.5 C438.0 161.7 439.3 165.5 440.7 168.3 C442.1 171.1 443.3 172.3 444.8 175.1 C446.3 177.9 448.1 181.8 449.8 185.2 C451.5 188.6 453.0 192.3 454.9 195.4 C456.8 198.5 459.0 201.2 461.0 203.5 C463.0 205.8 465.0 208.0 467.0 209.5 C469.0 211.0 471.1 211.9 473.1 212.6 C475.1 213.3 476.4 213.3 479.2 213.6 C482.0 213.9 486.7 214.1 490.0 214.2 C493.3 214.3 497.3 214.4 498.8 214.4" fill="none" stroke="#000" stroke-width="1.50" stroke-dasharray="10.3 8.7"/>
<line x1="308.2" y1="214.6" x2="498.8" y2="214.6" stroke="#000" stroke-width="1.50" stroke-dasharray="10.3 8.7" stroke-dashoffset="5.0"/>
<line x1="308.5" y1="214.6" x2="308.5" y2="184.0" stroke="#000" stroke-width="1.50" stroke-dasharray="12.1 7.1"/>
</g>
<rect x="298.6" y="38.8" width="209.4" height="184.2" fill="none" stroke="#000" stroke-width="1.6"/>
<g stroke="#333" stroke-width="0.8"><line x1="308.2" y1="223.0" x2="308.2" y2="224.8"/><line x1="327.3" y1="223.0" x2="327.3" y2="224.8"/><line x1="346.3" y1="223.0" x2="346.3" y2="224.8"/><line x1="365.4" y1="223.0" x2="365.4" y2="224.8"/><line x1="384.4" y1="223.0" x2="384.4" y2="224.8"/><line x1="403.5" y1="223.0" x2="403.5" y2="224.8"/><line x1="422.6" y1="223.0" x2="422.6" y2="224.8"/><line x1="441.6" y1="223.0" x2="441.6" y2="224.8"/><line x1="460.7" y1="223.0" x2="460.7" y2="224.8"/><line x1="479.7" y1="223.0" x2="479.7" y2="224.8"/><line x1="498.8" y1="223.0" x2="498.8" y2="224.8"/><line x1="296.8" y1="214.6" x2="298.6" y2="214.6"/><line x1="296.8" y1="156.2" x2="298.6" y2="156.2"/><line x1="296.8" y1="97.8" x2="298.6" y2="97.8"/><line x1="296.8" y1="39.4" x2="298.6" y2="39.4"/></g>
<g fill="#3a3a3a" font-size="6.7"><text x="308.2" y="230.6" text-anchor="middle">0</text><text x="327.6" y="230.6" text-anchor="middle">1</text><text x="347.0" y="230.6" text-anchor="middle">2</text><text x="366.3" y="230.6" text-anchor="middle">3</text><text x="385.7" y="230.6" text-anchor="middle">4</text><text x="405.1" y="230.6" text-anchor="middle">5</text><text x="424.5" y="230.6" text-anchor="middle">6</text><text x="443.9" y="230.6" text-anchor="middle">7</text><text x="463.2" y="230.6" text-anchor="middle">8</text><text x="482.6" y="230.6" text-anchor="middle">9</text><text x="499.8" y="230.6" text-anchor="middle">10</text><text x="293.3" y="217.0" text-anchor="end">0.0</text><text x="293.3" y="158.6" text-anchor="end">0.1</text><text x="293.3" y="100.2" text-anchor="end">0.2</text><text x="293.3" y="41.8" text-anchor="end">0.3</text></g>
<text x="278.8" y="14.8" font-size="22" font-weight="bold" fill="#000">b</text>
<text x="403.5" y="25.5" font-size="11" text-anchor="middle" fill="#000">Filtering with 1000 Genomes</text>
<text x="405.7" y="244.2" font-size="11" text-anchor="middle" fill="#000">Germline false positives</text>
<text transform="translate(275.3 128.9) rotate(-90)" font-size="11" text-anchor="middle" fill="#000">Density</text>
<rect x="432.8" y="54.7" width="4.4" height="4.4" fill="#4a50a0" stroke="#111" stroke-width="1.2"/>
<rect x="432.8" y="64.2" width="4.4" height="4.4" fill="#f0e010" stroke="#111" stroke-width="1.2"/>
<text x="441.3" y="59.3" font-size="9.3" fill="#000">Caucasian</text>
<text x="441.3" y="69.1" font-size="9.3" fill="#000">Non-caucasian</text>
<text x="422.2" y="134.6" font-size="7.8" fill="#333"><tspan font-style="italic">p</tspan> = 4.82 x 10<tspan font-size="4.6" font-weight="bold" dx="0.4" dy="-3.2">-4</tspan></text>
<defs><clipPath id="clipc"><rect x="567.8" y="38.7" width="208.2" height="183.8"/></clipPath>
<clipPath id="ccc"><path d="M577.2 214.4 L577.2 54.0 C577.4 54.3 577.8 54.8 578.2 56.0 C578.6 57.2 579.0 59.0 579.5 61.0 C580.0 63.0 580.4 65.2 581.0 68.0 C581.6 70.8 582.6 75.2 583.1 78.0 C583.6 80.8 583.7 82.2 584.0 85.0 C584.3 87.8 584.6 91.7 585.1 95.1 C585.6 98.5 586.4 101.5 587.1 105.2 C587.8 108.9 588.7 114.6 589.2 117.4 C589.7 120.2 589.9 121.7 590.2 122.0 C590.5 122.3 590.9 120.5 591.2 119.0 C591.5 117.5 591.7 115.1 592.2 113.3 C592.7 111.5 593.7 109.0 594.2 108.3 C594.8 107.6 595.0 108.2 595.5 109.0 C596.0 109.8 596.7 111.3 597.3 113.3 C597.9 115.3 598.7 118.8 599.3 121.0 C599.9 123.2 600.6 124.9 601.1 126.5 C601.6 128.1 602.1 129.1 602.5 130.5 C602.9 131.9 603.0 133.4 603.3 135.0 C603.5 136.6 603.7 138.2 604.0 140.0 C604.3 141.8 604.7 144.4 605.0 146.0 C605.3 147.6 605.3 149.4 605.8 149.8 C606.2 150.2 607.2 149.3 607.7 148.5 C608.2 147.7 608.5 146.2 609.0 144.8 C609.5 143.4 610.4 141.5 611.0 140.3 C611.6 139.1 612.0 138.1 612.5 137.5 C613.0 136.9 613.4 136.8 613.8 136.8 C614.2 136.8 614.6 137.1 615.0 137.5 C615.4 137.9 615.7 138.0 616.1 139.0 C616.5 140.0 617.0 141.9 617.4 143.5 C617.8 145.1 618.2 146.5 618.7 148.7 C619.2 150.9 620.1 154.1 620.7 156.5 C621.3 158.9 621.8 160.9 622.3 163.0 C622.8 165.1 623.2 166.6 623.8 169.0 C624.4 171.4 625.1 174.8 625.8 177.2 C626.4 179.6 627.1 182.2 627.7 183.5 C628.3 184.8 629.0 185.0 629.6 185.2 C630.2 185.3 631.0 184.5 631.6 184.4 C632.2 184.3 632.9 184.2 633.5 184.6 C634.1 184.9 634.9 185.7 635.5 186.5 C636.1 187.3 636.8 188.0 637.4 189.4 C638.0 190.8 638.8 193.3 639.4 195.2 C640.0 197.1 640.7 199.1 641.3 201.0 C641.9 202.9 642.4 205.0 643.2 206.8 C644.0 208.6 645.1 210.6 646.2 211.7 C647.3 212.8 648.5 212.9 650.0 213.2 C651.5 213.5 653.3 213.5 655.0 213.5 C656.7 213.5 658.4 213.4 660.0 213.2 C661.6 213.0 663.3 212.5 664.6 212.2 C665.9 211.9 666.9 211.4 668.0 211.2 C669.1 211.0 670.3 210.9 671.3 211.0 C672.3 211.1 673.1 211.3 674.0 211.5 C674.9 211.7 675.8 211.9 676.8 212.2 C677.8 212.5 677.8 213.2 680.0 213.5 C682.2 213.8 675.6 214.0 690.0 214.2 C704.4 214.3 753.8 214.4 766.6 214.4 L766.6 214.4 Z"/></clipPath></defs>
<g stroke="#ececec" stroke-width="0.7"><line x1="576.9" y1="38.7" x2="576.9" y2="222.5"/><line x1="586.4" y1="38.7" x2="586.4" y2="222.5" stroke="#f0f0f0"/><line x1="595.9" y1="38.7" x2="595.9" y2="222.5"/><line x1="605.4" y1="38.7" x2="605.4" y2="222.5" stroke="#f0f0f0"/><line x1="614.8" y1="38.7" x2="614.8" y2="222.5"/><line x1="624.3" y1="38.7" x2="624.3" y2="222.5" stroke="#f0f0f0"/><line x1="633.8" y1="38.7" x2="633.8" y2="222.5"/><line x1="643.3" y1="38.7" x2="643.3" y2="222.5" stroke="#f0f0f0"/><line x1="652.8" y1="38.7" x2="652.8" y2="222.5"/><line x1="662.3" y1="38.7" x2="662.3" y2="222.5" stroke="#f0f0f0"/><line x1="671.8" y1="38.7" x2="671.8" y2="222.5"/><line x1="681.2" y1="38.7" x2="681.2" y2="222.5" stroke="#f0f0f0"/><line x1="690.7" y1="38.7" x2="690.7" y2="222.5"/><line x1="700.2" y1="38.7" x2="700.2" y2="222.5" stroke="#f0f0f0"/><line x1="709.7" y1="38.7" x2="709.7" y2="222.5"/><line x1="719.2" y1="38.7" x2="719.2" y2="222.5" stroke="#f0f0f0"/><line x1="728.7" y1="38.7" x2="728.7" y2="222.5"/><line x1="738.1" y1="38.7" x2="738.1" y2="222.5" stroke="#f0f0f0"/><line x1="747.6" y1="38.7" x2="747.6" y2="222.5"/><line x1="757.1" y1="38.7" x2="757.1" y2="222.5" stroke="#f0f0f0"/><line x1="766.6" y1="38.7" x2="766.6" y2="222.5"/><line x1="567.8" y1="214.4" x2="776.0" y2="214.4"/><line x1="567.8" y1="198.1" x2="776.0" y2="198.1" stroke="#f0f0f0"/><line x1="567.8" y1="181.8" x2="776.0" y2="181.8"/><line x1="567.8" y1="165.5" x2="776.0" y2="165.5" stroke="#f0f0f0"/><line x1="567.8" y1="149.2" x2="776.0" y2="149.2"/><line x1="567.8" y1="132.9" x2="776.0" y2="132.9" stroke="#f0f0f0"/><line x1="567.8" y1="116.6" x2="776.0" y2="116.6"/><line x1="567.8" y1="100.3" x2="776.0" y2="100.3" stroke="#f0f0f0"/><line x1="567.8" y1="84.0" x2="776.0" y2="84.0"/><line x1="567.8" y1="67.7" x2="776.0" y2="67.7" stroke="#f0f0f0"/><line x1="567.8" y1="51.4" x2="776.0" y2="51.4"/></g>
<g clip-path="url(#clipc)">
<path d="M577.2 214.4 L577.2 46.3 C577.4 46.5 577.9 46.7 578.2 47.5 C578.5 48.3 578.8 48.9 579.2 50.9 C579.7 52.9 580.2 56.0 580.9 59.4 C581.6 62.8 582.6 67.8 583.4 71.6 C584.2 75.4 585.1 79.4 585.8 82.5 C586.5 85.6 586.9 87.8 587.5 90.0 C588.1 92.2 588.8 95.3 589.5 95.5 C590.2 95.7 590.8 92.8 591.5 91.0 C592.2 89.2 592.8 86.5 593.5 85.0 C594.2 83.5 594.9 81.8 595.5 82.0 C596.1 82.2 596.7 84.3 597.2 86.0 C597.7 87.7 598.1 90.0 598.6 92.0 C599.1 94.0 599.8 95.8 600.3 98.0 C600.8 100.2 601.0 102.3 601.3 105.2 C601.6 108.1 601.9 112.1 602.1 115.4 C602.4 118.7 602.5 122.1 602.8 125.0 C603.0 127.9 603.3 130.3 603.6 133.0 C603.9 135.7 604.3 138.3 604.6 141.0 C604.9 143.7 605.3 146.7 605.6 149.0 C605.9 151.3 606.1 152.8 606.3 155.0 C606.5 157.2 606.5 159.0 606.9 162.0 C607.3 165.0 608.0 169.4 608.9 173.0 C609.8 176.6 611.2 180.7 612.4 183.5 C613.6 186.3 614.8 188.3 616.2 189.8 C617.6 191.3 619.6 192.6 621.0 192.5 C622.4 192.4 623.5 190.5 624.5 189.5 C625.5 188.5 626.0 187.6 626.7 186.4 C627.4 185.2 628.1 183.8 628.7 182.6 C629.3 181.4 629.9 180.3 630.5 179.5 C631.1 178.7 631.8 177.7 632.6 177.7 C633.4 177.7 634.7 178.7 635.5 179.7 C636.3 180.7 636.8 181.6 637.4 183.5 C638.0 185.4 638.6 188.6 639.4 191.3 C640.2 194.1 641.3 197.4 642.3 200.0 C643.3 202.6 644.2 204.9 645.2 206.8 C646.2 208.8 647.0 210.6 648.1 211.7 C649.2 212.8 649.2 213.2 652.0 213.6 C654.8 214.0 660.3 214.0 665.0 214.1 C669.7 214.2 663.1 214.2 680.0 214.3 C696.9 214.4 752.2 214.4 766.6 214.4 L766.6 214.4 Z" fill="#f5dc1e"/>
<path d="M577.2 214.4 L577.2 54.0 C577.4 54.3 577.8 54.8 578.2 56.0 C578.6 57.2 579.0 59.0 579.5 61.0 C580.0 63.0 580.4 65.2 581.0 68.0 C581.6 70.8 582.6 75.2 583.1 78.0 C583.6 80.8 583.7 82.2 584.0 85.0 C584.3 87.8 584.6 91.7 585.1 95.1 C585.6 98.5 586.4 101.5 587.1 105.2 C587.8 108.9 588.7 114.6 589.2 117.4 C589.7 120.2 589.9 121.7 590.2 122.0 C590.5 122.3 590.9 120.5 591.2 119.0 C591.5 117.5 591.7 115.1 592.2 113.3 C592.7 111.5 593.7 109.0 594.2 108.3 C594.8 107.6 595.0 108.2 595.5 109.0 C596.0 109.8 596.7 111.3 597.3 113.3 C597.9 115.3 598.7 118.8 599.3 121.0 C599.9 123.2 600.6 124.9 601.1 126.5 C601.6 128.1 602.1 129.1 602.5 130.5 C602.9 131.9 603.0 133.4 603.3 135.0 C603.5 136.6 603.7 138.2 604.0 140.0 C604.3 141.8 604.7 144.4 605.0 146.0 C605.3 147.6 605.3 149.4 605.8 149.8 C606.2 150.2 607.2 149.3 607.7 148.5 C608.2 147.7 608.5 146.2 609.0 144.8 C609.5 143.4 610.4 141.5 611.0 140.3 C611.6 139.1 612.0 138.1 612.5 137.5 C613.0 136.9 613.4 136.8 613.8 136.8 C614.2 136.8 614.6 137.1 615.0 137.5 C615.4 137.9 615.7 138.0 616.1 139.0 C616.5 140.0 617.0 141.9 617.4 143.5 C617.8 145.1 618.2 146.5 618.7 148.7 C619.2 150.9 620.1 154.1 620.7 156.5 C621.3 158.9 621.8 160.9 622.3 163.0 C622.8 165.1 623.2 166.6 623.8 169.0 C624.4 171.4 625.1 174.8 625.8 177.2 C626.4 179.6 627.1 182.2 627.7 183.5 C628.3 184.8 629.0 185.0 629.6 185.2 C630.2 185.3 631.0 184.5 631.6 184.4 C632.2 184.3 632.9 184.2 633.5 184.6 C634.1 184.9 634.9 185.7 635.5 186.5 C636.1 187.3 636.8 188.0 637.4 189.4 C638.0 190.8 638.8 193.3 639.4 195.2 C640.0 197.1 640.7 199.1 641.3 201.0 C641.9 202.9 642.4 205.0 643.2 206.8 C644.0 208.6 645.1 210.6 646.2 211.7 C647.3 212.8 648.5 212.9 650.0 213.2 C651.5 213.5 653.3 213.5 655.0 213.5 C656.7 213.5 658.4 213.4 660.0 213.2 C661.6 213.0 663.3 212.5 664.6 212.2 C665.9 211.9 666.9 211.4 668.0 211.2 C669.1 211.0 670.3 210.9 671.3 211.0 C672.3 211.1 673.1 211.3 674.0 211.5 C674.9 211.7 675.8 211.9 676.8 212.2 C677.8 212.5 677.8 213.2 680.0 213.5 C682.2 213.8 675.6 214.0 690.0 214.2 C704.4 214.3 753.8 214.4 766.6 214.4 L766.6 214.4 Z" fill="#6a6ec3"/>
<path d="M577.2 214.4 L577.2 46.3 C577.4 46.5 577.9 46.7 578.2 47.5 C578.5 48.3 578.8 48.9 579.2 50.9 C579.7 52.9 580.2 56.0 580.9 59.4 C581.6 62.8 582.6 67.8 583.4 71.6 C584.2 75.4 585.1 79.4 585.8 82.5 C586.5 85.6 586.9 87.8 587.5 90.0 C588.1 92.2 588.8 95.3 589.5 95.5 C590.2 95.7 590.8 92.8 591.5 91.0 C592.2 89.2 592.8 86.5 593.5 85.0 C594.2 83.5 594.9 81.8 595.5 82.0 C596.1 82.2 596.7 84.3 597.2 86.0 C597.7 87.7 598.1 90.0 598.6 92.0 C599.1 94.0 599.8 95.8 600.3 98.0 C600.8 100.2 601.0 102.3 601.3 105.2 C601.6 108.1 601.9 112.1 602.1 115.4 C602.4 118.7 602.5 122.1 602.8 125.0 C603.0 127.9 603.3 130.3 603.6 133.0 C603.9 135.7 604.3 138.3 604.6 141.0 C604.9 143.7 605.3 146.7 605.6 149.0 C605.9 151.3 606.1 152.8 606.3 155.0 C606.5 157.2 606.5 159.0 606.9 162.0 C607.3 165.0 608.0 169.4 608.9 173.0 C609.8 176.6 611.2 180.7 612.4 183.5 C613.6 186.3 614.8 188.3 616.2 189.8 C617.6 191.3 619.6 192.6 621.0 192.5 C622.4 192.4 623.5 190.5 624.5 189.5 C625.5 188.5 626.0 187.6 626.7 186.4 C627.4 185.2 628.1 183.8 628.7 182.6 C629.3 181.4 629.9 180.3 630.5 179.5 C631.1 178.7 631.8 177.7 632.6 177.7 C633.4 177.7 634.7 178.7 635.5 179.7 C636.3 180.7 636.8 181.6 637.4 183.5 C638.0 185.4 638.6 188.6 639.4 191.3 C640.2 194.1 641.3 197.4 642.3 200.0 C643.3 202.6 644.2 204.9 645.2 206.8 C646.2 208.8 647.0 210.6 648.1 211.7 C649.2 212.8 649.2 213.2 652.0 213.6 C654.8 214.0 660.3 214.0 665.0 214.1 C669.7 214.2 663.1 214.2 680.0 214.3 C696.9 214.4 752.2 214.4 766.6 214.4 L766.6 214.4 Z" fill="#64648f" clip-path="url(#ccc)"/>
<path d="M577.2 54.0 C577.4 54.3 577.8 54.8 578.2 56.0 C578.6 57.2 579.0 59.0 579.5 61.0 C580.0 63.0 580.4 65.2 581.0 68.0 C581.6 70.8 582.6 75.2 583.1 78.0 C583.6 80.8 583.7 82.2 584.0 85.0 C584.3 87.8 584.6 91.7 585.1 95.1 C585.6 98.5 586.4 101.5 587.1 105.2 C587.8 108.9 588.7 114.6 589.2 117.4 C589.7 120.2 589.9 121.7 590.2 122.0 C590.5 122.3 590.9 120.5 591.2 119.0 C591.5 117.5 591.7 115.1 592.2 113.3 C592.7 111.5 593.7 109.0 594.2 108.3 C594.8 107.6 595.0 108.2 595.5 109.0 C596.0 109.8 596.7 111.3 597.3 113.3 C597.9 115.3 598.7 118.8 599.3 121.0 C599.9 123.2 600.6 124.9 601.1 126.5 C601.6 128.1 602.1 129.1 602.5 130.5 C602.9 131.9 603.0 133.4 603.3 135.0 C603.5 136.6 603.7 138.2 604.0 140.0 C604.3 141.8 604.7 144.4 605.0 146.0 C605.3 147.6 605.3 149.4 605.8 149.8 C606.2 150.2 607.2 149.3 607.7 148.5 C608.2 147.7 608.5 146.2 609.0 144.8 C609.5 143.4 610.4 141.5 611.0 140.3 C611.6 139.1 612.0 138.1 612.5 137.5 C613.0 136.9 613.4 136.8 613.8 136.8 C614.2 136.8 614.6 137.1 615.0 137.5 C615.4 137.9 615.7 138.0 616.1 139.0 C616.5 140.0 617.0 141.9 617.4 143.5 C617.8 145.1 618.2 146.5 618.7 148.7 C619.2 150.9 620.1 154.1 620.7 156.5 C621.3 158.9 621.8 160.9 622.3 163.0 C622.8 165.1 623.2 166.6 623.8 169.0 C624.4 171.4 625.1 174.8 625.8 177.2 C626.4 179.6 627.1 182.2 627.7 183.5 C628.3 184.8 629.0 185.0 629.6 185.2 C630.2 185.3 631.0 184.5 631.6 184.4 C632.2 184.3 632.9 184.2 633.5 184.6 C634.1 184.9 634.9 185.7 635.5 186.5 C636.1 187.3 636.8 188.0 637.4 189.4 C638.0 190.8 638.8 193.3 639.4 195.2 C640.0 197.1 640.7 199.1 641.3 201.0 C641.9 202.9 642.4 205.0 643.2 206.8 C644.0 208.6 645.1 210.6 646.2 211.7 C647.3 212.8 648.5 212.9 650.0 213.2 C651.5 213.5 653.3 213.5 655.0 213.5 C656.7 213.5 658.4 213.4 660.0 213.2 C661.6 213.0 663.3 212.5 664.6 212.2 C665.9 211.9 666.9 211.4 668.0 211.2 C669.1 211.0 670.3 210.9 671.3 211.0 C672.3 211.1 673.1 211.3 674.0 211.5 C674.9 211.7 675.8 211.9 676.8 212.2 C677.8 212.5 677.8 213.2 680.0 213.5 C682.2 213.8 675.6 214.0 690.0 214.2 C704.4 214.3 753.8 214.4 766.6 214.4" fill="none" stroke="#000" stroke-width="1.50" stroke-dasharray="10.3 8.7"/>
<path d="M577.2 46.3 C577.4 46.5 577.9 46.7 578.2 47.5 C578.5 48.3 578.8 48.9 579.2 50.9 C579.7 52.9 580.2 56.0 580.9 59.4 C581.6 62.8 582.6 67.8 583.4 71.6 C584.2 75.4 585.1 79.4 585.8 82.5 C586.5 85.6 586.9 87.8 587.5 90.0 C588.1 92.2 588.8 95.3 589.5 95.5 C590.2 95.7 590.8 92.8 591.5 91.0 C592.2 89.2 592.8 86.5 593.5 85.0 C594.2 83.5 594.9 81.8 595.5 82.0 C596.1 82.2 596.7 84.3 597.2 86.0 C597.7 87.7 598.1 90.0 598.6 92.0 C599.1 94.0 599.8 95.8 600.3 98.0 C600.8 100.2 601.0 102.3 601.3 105.2 C601.6 108.1 601.9 112.1 602.1 115.4 C602.4 118.7 602.5 122.1 602.8 125.0 C603.0 127.9 603.3 130.3 603.6 133.0 C603.9 135.7 604.3 138.3 604.6 141.0 C604.9 143.7 605.3 146.7 605.6 149.0 C605.9 151.3 606.1 152.8 606.3 155.0 C606.5 157.2 606.5 159.0 606.9 162.0 C607.3 165.0 608.0 169.4 608.9 173.0 C609.8 176.6 611.2 180.7 612.4 183.5 C613.6 186.3 614.8 188.3 616.2 189.8 C617.6 191.3 619.6 192.6 621.0 192.5 C622.4 192.4 623.5 190.5 624.5 189.5 C625.5 188.5 626.0 187.6 626.7 186.4 C627.4 185.2 628.1 183.8 628.7 182.6 C629.3 181.4 629.9 180.3 630.5 179.5 C631.1 178.7 631.8 177.7 632.6 177.7 C633.4 177.7 634.7 178.7 635.5 179.7 C636.3 180.7 636.8 181.6 637.4 183.5 C638.0 185.4 638.6 188.6 639.4 191.3 C640.2 194.1 641.3 197.4 642.3 200.0 C643.3 202.6 644.2 204.9 645.2 206.8 C646.2 208.8 647.0 210.6 648.1 211.7 C649.2 212.8 649.2 213.2 652.0 213.6 C654.8 214.0 660.3 214.0 665.0 214.1 C669.7 214.2 663.1 214.2 680.0 214.3 C696.9 214.4 752.2 214.4 766.6 214.4" fill="none" stroke="#000" stroke-width="1.50" stroke-dasharray="10.3 8.7"/>
<line x1="576.9" y1="214.4" x2="766.6" y2="214.4" stroke="#000" stroke-width="1.50" stroke-dasharray="10.3 8.7" stroke-dashoffset="5.0"/>
<line x1="577.2" y1="214.4" x2="577.2" y2="46.3" stroke="#000" stroke-width="1.50" stroke-dasharray="12.1 7.1"/>
</g>
<rect x="567.8" y="38.7" width="208.2" height="183.8" fill="none" stroke="#000" stroke-width="1.6"/>
<g stroke="#333" stroke-width="0.8"><line x1="576.9" y1="222.5" x2="576.9" y2="224.3"/><line x1="595.9" y1="222.5" x2="595.9" y2="224.3"/><line x1="614.8" y1="222.5" x2="614.8" y2="224.3"/><line x1="633.8" y1="222.5" x2="633.8" y2="224.3"/><line x1="652.8" y1="222.5" x2="652.8" y2="224.3"/><line x1="671.8" y1="222.5" x2="671.8" y2="224.3"/><line x1="690.7" y1="222.5" x2="690.7" y2="224.3"/><line x1="709.7" y1="222.5" x2="709.7" y2="224.3"/><line x1="728.7" y1="222.5" x2="728.7" y2="224.3"/><line x1="747.6" y1="222.5" x2="747.6" y2="224.3"/><line x1="766.6" y1="222.5" x2="766.6" y2="224.3"/><line x1="566.0" y1="214.4" x2="567.8" y2="214.4"/><line x1="566.0" y1="181.8" x2="567.8" y2="181.8"/><line x1="566.0" y1="149.2" x2="567.8" y2="149.2"/><line x1="566.0" y1="116.6" x2="567.8" y2="116.6"/><line x1="566.0" y1="84.0" x2="567.8" y2="84.0"/><line x1="566.0" y1="51.4" x2="567.8" y2="51.4"/></g>
<g fill="#3a3a3a" font-size="6.7"><text x="576.9" y="230.6" text-anchor="middle">0</text><text x="596.2" y="230.6" text-anchor="middle">1</text><text x="615.5" y="230.6" text-anchor="middle">2</text><text x="634.8" y="230.6" text-anchor="middle">3</text><text x="654.1" y="230.6" text-anchor="middle">4</text><text x="673.4" y="230.6" text-anchor="middle">5</text><text x="692.6" y="230.6" text-anchor="middle">6</text><text x="711.9" y="230.6" text-anchor="middle">7</text><text x="731.2" y="230.6" text-anchor="middle">8</text><text x="750.5" y="230.6" text-anchor="middle">9</text><text x="767.6" y="230.6" text-anchor="middle">10</text><text x="564.9" y="216.8" text-anchor="end">0.0</text><text x="564.9" y="184.2" text-anchor="end">0.1</text><text x="564.9" y="151.6" text-anchor="end">0.2</text><text x="564.9" y="119.0" text-anchor="end">0.3</text><text x="564.9" y="86.4" text-anchor="end">0.4</text><text x="564.9" y="53.8" text-anchor="end">0.5</text></g>
<text x="538.0" y="14.8" font-size="22" font-weight="bold" fill="#000">c</text>
<text x="670.9" y="25.5" font-size="11" text-anchor="middle" fill="#000">Filtering with ExAC</text>
<text x="673.8" y="244.2" font-size="11" text-anchor="middle" fill="#000">Germline false positives</text>
<text transform="translate(545.8 128.3) rotate(-90)" font-size="11" text-anchor="middle" fill="#000">Density</text>
<rect x="704.0" y="53.5" width="4.4" height="4.4" fill="#4a50a0" stroke="#111" stroke-width="1.2"/>
<rect x="704.0" y="63.0" width="4.4" height="4.4" fill="#f0e010" stroke="#111" stroke-width="1.2"/>
<text x="710.9" y="58.1" font-size="9.3" fill="#000">Caucasian</text>
<text x="710.9" y="67.9" font-size="9.3" fill="#000">Non-caucasian</text>
<text x="639.0" y="172.4" font-size="7.8" fill="#333"><tspan font-style="italic">p</tspan> = 0.531</text>
</svg></body></html>
